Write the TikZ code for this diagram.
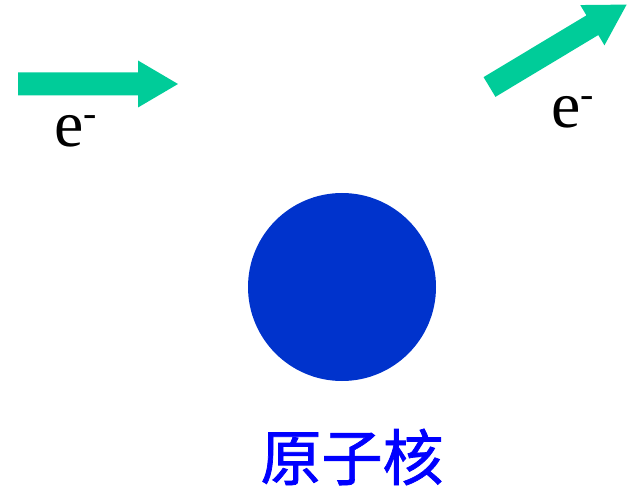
\documentclass[tikz,border=0pt]{standalone}
\usepackage{fontspec}
\setmainfont{Liberation Serif}
\newfontfamily\timesf{Liberation Serif}
\newfontfamily\cjk[FakeBold=1.2]{Noto Sans CJK SC}
\usepackage{tikz}
\definecolor{beamgreen}{RGB}{0,204,153}
\definecolor{nucblue}{RGB}{0,51,204}
\definecolor{labelblue}{RGB}{0,0,255}
\newcommand{\elec}{e\raisebox{20pt}{\fontsize{40}{40}\selectfont -}}

\begin{document}
\begin{tikzpicture}[x=1pt, y=1pt,
    beam/.pic={\fill[beamgreen] (0,-11.5) -- (120,-11.5) -- (120,-23.5) -- (160,0)
                -- (120,23.5) -- (120,11.5) -- (0,11.5) -- cycle;},
    elabel/.style={anchor=base west, inner sep=0pt, font=\timesf\fontsize{66}{70}\selectfont},
    nucleus/.style={circle, fill=nucblue, minimum size=188pt, inner sep=0pt}]
\useasboundingbox (0,0) rectangle (635,491);

% incoming and scattered electron
\pic at (18,407) {beam};
\pic[rotate=31] at (489.5,404) {beam};
\node[elabel] (ein) at (54,344) {\elec};
\node[elabel] (eout) at (551,363) {\elec};

% nucleus
\node[nucleus] (nuc) at (342,204) {};
\node[text=labelblue, inner sep=0pt, font=\cjk\fontsize{61}{64}\selectfont] (nuclabel) at (352,34) {原子核};
\end{tikzpicture}
\end{document}
